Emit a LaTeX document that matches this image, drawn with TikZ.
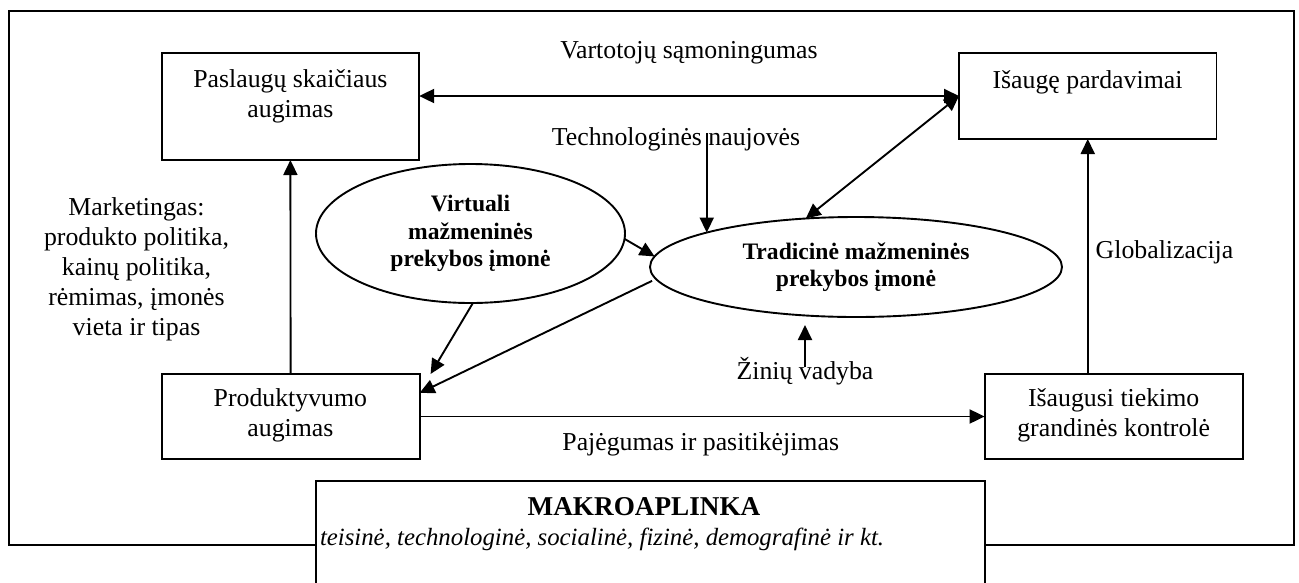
\documentclass[tikz,border=0pt]{standalone}
\usepackage{fontspec}
\setmainfont{Liberation Serif}
\usetikzlibrary{arrows.meta,shapes.geometric}
\tikzset{
  lw/.style={line width=1.9pt},
  boxshape/.style={draw, lw, rectangle, inner sep=0pt, outer sep=0pt},
  ellshape/.style={draw, lw, ellipse, inner sep=0pt, outer sep=0pt, align=center,
    font=\fontsize{23.6}{27.5}\selectfont\bfseries},
  lbl/.style={inner sep=0pt, outer sep=0pt, font=\fontsize{25.8}{30}\selectfont},
  arr/.style={lw, -{Triangle[length=15pt,width=14pt]}},
  dbl/.style={lw, {Triangle[length=15pt,width=14pt]}-{Triangle[length=15pt,width=14pt]}}
}
\begin{document}
\begin{tikzpicture}[x=1pt,y=-1pt]
\useasboundingbox (0,0) rectangle (1299,582);
\clip (0,0) rectangle (1299,582);
% outer frame
\node[boxshape, minimum width=1285.3pt, minimum height=534pt] (frame) at (651.35,278) {};
% boxes
\node[boxshape, minimum width=257.5pt, minimum height=107pt] (pas) at (290.4,106.5) {};
\node[boxshape, minimum width=257.5pt, minimum height=86pt] (isp) at (1087.75,96) {};
\node[boxshape, minimum width=258pt, minimum height=85pt] (prod) at (290.6,416.5) {};
\node[boxshape, minimum width=258.4pt, minimum height=85pt] (tiek) at (1113.8,416.5) {};
\node[boxshape, fill=white, minimum width=669pt, minimum height=120pt] (makro) at (650.5,541) {};
% box texts (base = baseline of last line)
\node[lbl, anchor=base, align=center] (pastxt) at (290.4,117) {Paslaugų skaičiaus\\augimas};
\node[lbl, anchor=base] (isptxt) at (1087.5,88) {Išaugę pardavimai};
\node[lbl, anchor=base, align=center] (prodtxt) at (290.4,436.7) {Produktyvumo\\augimas};
\node[lbl, anchor=base, align=center] (tiektxt) at (1113.7,436.7) {Išaugusi tiekimo\\grandinės kontrolė};
\node[lbl, anchor=base, font=\fontsize{27.2}{30}\selectfont\bfseries] (makrotitle) at (644,515) {MAKROAPLINKA};
\node[lbl, anchor=base west, font=\fontsize{24.8}{30}\selectfont\itshape] (makrosub) at (320,545) {teisinė, technologinė, socialinė, fizinė, demografinė ir kt.};
% ellipses
\node[ellshape, minimum width=309pt, minimum height=139pt] (virt) at (470.5,233.5) {Virtuali\\mažmeninės\\prekybos įmonė};
\node[ellshape, minimum width=412pt, minimum height=100pt] (trad) at (856,267) {Tradicinė mažmeninės\\prekybos įmonė};
% free labels
\node[lbl, anchor=base] (vart) at (689,58) {Vartotojų sąmoningumas};
\node[lbl, anchor=base] (tech) at (676,145) {Technologinės naujovės};
\node[lbl, anchor=base, align=center] (mkt) at (136.5,335) {Marketingas:\\produkto politika,\\kainų politika,\\rėmimas, įmonės\\vieta ir tipas};
\node[lbl, anchor=base] (glob) at (1164.5,258) {Globalizacija};
\node[lbl, anchor=base] (zin) at (805,379) {Žinių vadyba};
\node[lbl, anchor=base] (paj) at (700.7,450) {Pajėgumas ir pasitikėjimas};
% connectors
\draw[dbl] (isp.west) -- (isp.west -| pas.east);
\draw[dbl] (isp.west) -- (trad.136.5);
\coordinate (techtip) at (trad.167.8);
\coordinate (techtail) at (techtip |- tech.base);
\draw[arr] ([yshift=12pt]techtail) -- (techtip);
\draw[arr] (virt.-2) -- (trad.177.7);
\draw[arr] (virt.-88) -- ([xshift=11pt]prod.north east);
\draw[arr] ([xshift=-6pt]trad.184) -- ([yshift=23.5pt]prod.east);
\draw[arr] (prod.north) -- (pas.south);
\draw[arr] (prod.east) -- (tiek.west);
\draw[arr] (isp.south |- tiek.north) -- (isp.south);
\draw[arr] ([yshift=12pt]zin.base) -- ([yshift=54pt]zin.base);
\end{tikzpicture}
\end{document}
